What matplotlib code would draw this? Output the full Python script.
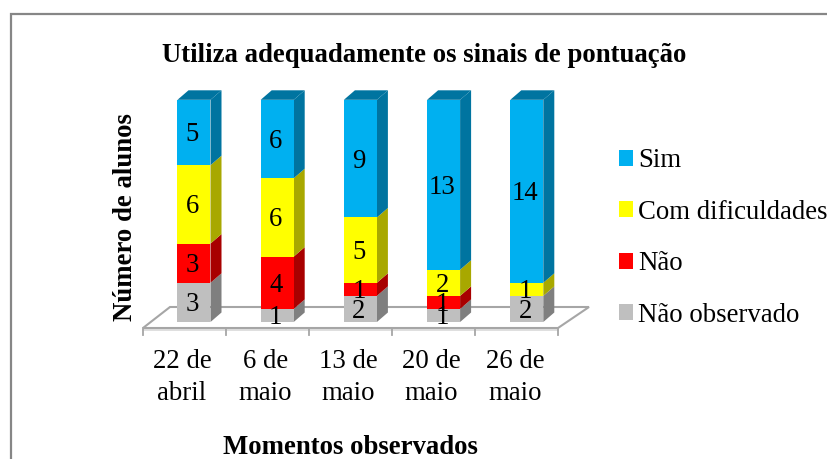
import matplotlib
matplotlib.use('Agg')
import matplotlib.pyplot as plt
from matplotlib.patches import Polygon, Patch
import numpy as np

plt.rcParams['font.family'] = ['Liberation Serif', 'DejaVu Serif']

title = 'Utiliza adequadamente os sinais de pontuação'
xlabel = 'Momentos observados'
ylabel = 'Número de alunos'
categories = ['22 de\nabril', '6 de\nmaio', '13 de\nmaio', '20 de\nmaio', '26 de\nmaio']
nao_observado = [3, 1, 2, 1, 2]
nao = [3, 4, 1, 1, 0]
com_dificuldades = [6, 6, 5, 2, 1]
sim = [5, 6, 9, 13, 14]

series_names = ['Não observado', 'Não', 'Com dificuldades', 'Sim']
series_values = [nao_observado, nao, com_dificuldades, sim]
front_colors = ['#bfbfbf', '#ff0000', '#ffff00', '#00b0f0']
side_colors = ['#7f7f7f', '#a80000', '#a8a800', '#0074a0']

W, H = 828, 459
PX = 83.2      # pixels per category
PY = 13.07     # pixels per student
X0, Y0 = 194, 322   # pixel of first category, value 0
FS = 19.3
fig = plt.figure(figsize=(W / 100, H / 100), dpi=100, facecolor='white')
ax = fig.add_axes([0, 0, 1, 1])
ax.set_xlim(-X0 / PX, (W - X0) / PX)
ax.set_ylim((Y0 - H) / PY, Y0 / PY)
ax.axis('off')


def dx(p):
    return p / PX


def dy(p):
    return p / PY


# outer chart border
border = '#868686'
ax.plot([dx(10.5 - X0), dx(10.5 - X0), dx(W - X0)],
        [dy(Y0 - H), dy(Y0 - 14), dy(Y0 - 14)], color=border, lw=1.6, zorder=1,
        solid_joinstyle='miter')

# floor of the 3D chart
fl = '#a6a6a6'
floor_x = [dx(143 - X0), dx(170 - X0), dx(589 - X0), dx(558 - X0)]
floor_y = [dy(Y0 - 328), dy(Y0 - 307), dy(Y0 - 307), dy(Y0 - 328)]
ax.add_patch(Polygon(np.column_stack([floor_x, floor_y]), closed=True,
                     facecolor='white', edgecolor=fl, lw=1.5, zorder=2))
ax.plot([floor_x[0], floor_x[3]], [dy(Y0 - 329.5)] * 2, color='#d9d9d9', lw=1.2, zorder=1.9)
for i in range(len(categories) + 1):
    tx = dx(143 - X0) + i * (558 - 143) / 5 / PX
    ax.plot([tx, tx], [dy(Y0 - 328), dy(Y0 - 335)], color=fl, lw=1.3, zorder=2)

# bars
bw = 33 / PX
ddx, ddy = dx(11), dy(9.5)
xs = np.arange(len(categories))
bottom = np.zeros(len(categories))
for vals, name, fc, sc in zip(series_values, series_names, front_colors, side_colors):
    vals = np.array(vals, float)
    ax.bar(xs, vals, bw, bottom=bottom, color=fc, zorder=4, linewidth=0)
    for x, b, v in zip(xs, bottom, vals):
        if v == 0:
            continue
        r = x + bw / 2
        ax.add_patch(Polygon([(r, b), (r + ddx, b + ddy), (r + ddx, b + v + ddy), (r, b + v)],
                             closed=True, facecolor=sc, edgecolor='none', zorder=3.5))
    bottom = bottom + vals

# top faces
for x, t in zip(xs, bottom):
    l, r = x - bw / 2, x + bw / 2
    ax.add_patch(Polygon([(l, t), (l + ddx, t + ddy), (r + ddx, t + ddy), (r, t)],
                         closed=True, facecolor=side_colors[-1], edgecolor='none', zorder=3.5))

# data labels
bottom = np.zeros(len(categories))
for vals in series_values:
    vals = np.array(vals, float)
    for x, b, v in zip(xs, bottom, vals):
        if v > 0:
            ax.text(x - dx(1.5), b + v / 2 - dy(2.5), f'{int(v)}', ha='center', va='center',
                    fontsize=FS, color='black', zorder=6)
    bottom = bottom + vals

# category labels
for i, c in enumerate(categories):
    ax.text(i - dx(12), dy(Y0 - 377.5), c, ha='center', va='center', fontsize=FS,
            linespacing=1.34, zorder=6)

ax.text(dx(424 - X0), dy(Y0 - 55), title, ha='center', va='center', fontsize=FS, fontweight='bold')
ax.text(dx(350 - X0), dy(Y0 - 447), xlabel, ha='center', va='center', fontsize=FS, fontweight='bold')
ax.text(dx(126 - X0), dy(Y0 - 217), ylabel, ha='center', va='center', rotation=90,
        fontsize=FS, fontweight='bold')

handles = [Patch(facecolor=c, edgecolor='none', label=n) for c, n in zip(front_colors, series_names)][::-1]
ax.legend(handles=handles, loc='center left', bbox_to_anchor=(619 / W, 1 - 238 / H), frameon=False,
          fontsize=FS, handlelength=0.52, handleheight=0.52, handletextpad=0.2,
          labelspacing=0.99, borderpad=0, borderaxespad=0)

fig.savefig('out.png', dpi=100)
